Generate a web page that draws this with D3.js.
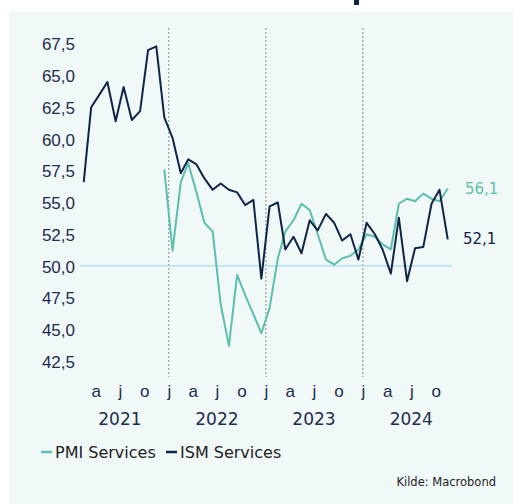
<!DOCTYPE html>
<html lang="no">
<head>
<meta charset="UTF-8">
<title>PMI vs ISM Services</title>
<style>
  html, body { margin: 0; padding: 0; background: #fff; }
  svg { display: block; font-family: "DejaVu Sans", sans-serif; }
  .axis path, .axis line { display: none; }
</style>
</head>
<body>
<svg id="chart" width="513" height="504"></svg>
<script src="https://cdn.jsdelivr.net/npm/d3@7/dist/d3.min.js"></script>
<script>
// ISM Services, Feb 2021 - Nov 2024 (monthly)
const ismStart = [2021, 1];
const ismValues = [
  56.6, 62.5, 63.5, 64.5, 61.4, 64.1, 61.5, 62.2, 67.0, 67.3, 61.7,
  60.1, 57.3, 58.4, 58.0, 56.9, 56.0, 56.5, 56.0, 55.8, 54.8, 55.2, 49.0,
  54.7, 55.0, 51.3, 52.3, 51.0, 53.6, 52.8, 54.1, 53.4, 52.0, 52.5, 50.5,
  53.4, 52.5, 51.3, 49.4, 53.8, 48.8, 51.4, 51.5, 54.9, 56.0, 52.1
];
// PMI Services, Dec 2021 - Nov 2024 (monthly)
const pmiStart = [2021, 11];
const pmiValues = [
  57.6,
  51.2, 56.6, 58.1, 55.8, 53.4, 52.7, 47.0, 43.7, 49.3, 47.7, 46.2, 44.7,
  46.7, 50.6, 52.7, 53.6, 54.9, 54.4, 52.5, 50.5, 50.1, 50.6, 50.8, 51.3,
  52.5, 52.3, 51.7, 51.3, 54.9, 55.3, 55.1, 55.7, 55.3, 55.1, 56.1
];
const yTicks = [42.5, 45.0, 47.5, 50.0, 52.5, 55.0, 57.5, 60.0, 62.5, 65.0, 67.5];
const years = [2021, 2022, 2023, 2024];
const monthLetters = ["j", "a", "j", "o"]; // jan, apr, jul, okt
const seriesNames = ["PMI Services", "ISM Services"];
const lastLabels = ["56,1", "52,1"];
const source = "Kilde: Macrobond";

const colPmi = "#5cbfae";
const colIsm = "#0f2447";
const txt = "#1c2c4c";

const svg = d3.select("#chart");

// bakgrunnspanel
svg.append("rect").attr("x", 9).attr("y", 11).attr("width", 504).attr("height", 493)
  .attr("fill", "#f1f8f8");
// rest av avkuttet tittel
svg.append("rect").attr("x", 354).attr("y", 0).attr("width", 5).attr("height", 5)
  .attr("fill", colIsm);

const x = d3.scaleTime()
  .domain([new Date(2021, 1, 1), new Date(2024, 11, 1)])
  .range([80, 452]);
const y = d3.scaleLinear().domain([41.25, 68.75]).range([377, 28]);

const toSeries = (start, vals) => vals.map((v, i) => ({
  date: new Date(start[0], start[1] + i, 15), value: v
}));
const ism = toSeries(ismStart, ismValues);
const pmi = toSeries(pmiStart, pmiValues);

// stiplete linjer ved årsskifte
svg.append("g").selectAll("line").data(years.slice(1)).join("line")
  .attr("x1", d => x(new Date(d, 0, 1))).attr("x2", d => x(new Date(d, 0, 1)))
  .attr("y1", 28).attr("y2", 377)
  .attr("stroke", "#8a8a8a").attr("stroke-width", 1).attr("stroke-dasharray", "2,2");

// 50-linje
svg.append("line")
  .attr("x1", x.range()[0]).attr("x2", x.range()[1])
  .attr("y1", y(50)).attr("y2", y(50))
  .attr("stroke", "#a6dbe6").attr("stroke-width", 1.2);

// y-akse
const no = d3.formatLocale({ decimal: ",", thousands: ".", grouping: [3], currency: ["", " kr"] });
const yAxis = svg.append("g").attr("class", "axis")
  .attr("transform", "translate(80,0)")
  .call(d3.axisLeft(y).tickValues(yTicks).tickSize(0).tickPadding(5).tickFormat(no.format(".1f")));
yAxis.selectAll("text").attr("fill", txt).style("font-size", "17px").attr("dy", "0.36em");

// x-akse: månedsbokstaver
const monthTicks = [];
years.forEach(yr => [0, 3, 6, 9].forEach(m => {
  const d = new Date(yr, m, 1);
  if (d >= x.domain()[0] && d <= x.domain()[1]) monthTicks.push(d);
}));
const xAxis = svg.append("g").attr("class", "axis")
  .attr("transform", "translate(0,381)")
  .call(d3.axisBottom(x).tickValues(monthTicks).tickSize(0).tickPadding(0)
    .tickFormat(d => monthLetters[d.getMonth() / 3]));
xAxis.selectAll("text").attr("fill", txt).style("font-size", "17px").attr("dy", "0.95em");

svg.append("g").selectAll("text").data(years).join("text")
  .attr("x", d => x(new Date(d, 6, 1))).attr("y", 425)
  .attr("text-anchor", "middle").attr("fill", txt).style("font-size", "17px")
  .text(d => d);

// linjer
const line = d3.line().x(d => x(d.date)).y(d => y(d.value));
svg.append("path").datum(pmi).attr("d", line)
  .attr("fill", "none").attr("stroke", colPmi).attr("stroke-width", 2).attr("stroke-linejoin", "round");
svg.append("path").datum(ism).attr("d", line)
  .attr("fill", "none").attr("stroke", colIsm).attr("stroke-width", 2).attr("stroke-linejoin", "round");

// siste verdier
const lastP = pmi[pmi.length - 1], lastI = ism[ism.length - 1];
svg.append("text").attr("x", 465).attr("y", y(lastP.value) + 5)
  .attr("fill", colPmi).style("font-size", "15px").text(lastLabels[0]);
svg.append("text").attr("x", 463).attr("y", y(lastI.value) + 5)
  .attr("fill", colIsm).style("font-size", "15px").text(lastLabels[1]);

// legende
const legend = svg.append("g").attr("transform", "translate(0,452)");
const items = [{ name: seriesNames[0], color: colPmi, x: 41 }, { name: seriesNames[1], color: colIsm, x: 166 }];
items.forEach(it => {
  legend.append("line").attr("x1", it.x).attr("x2", it.x + 11).attr("y1", 0).attr("y2", 0)
    .attr("stroke", it.color).attr("stroke-width", 2.5);
  legend.append("text").attr("x", it.x + 14).attr("y", 6)
    .attr("fill", "#222").style("font-size", "16px").text(it.name);
});

// kilde
svg.append("text").attr("x", 496).attr("y", 486).attr("text-anchor", "end")
  .attr("fill", "#222").style("font-size", "11.5px").text(source);
</script>
</body>
</html>
